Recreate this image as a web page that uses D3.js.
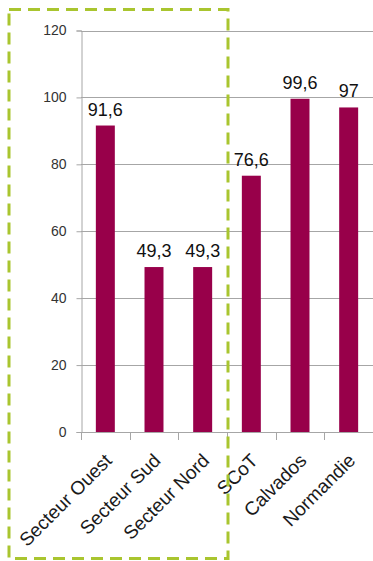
<!DOCTYPE html>
<html>
<head>
<meta charset="utf-8">
<script src="https://cdn.jsdelivr.net/npm/d3@7"></script>
<style>
  body { margin: 0; background: #fff; }
  svg { display: block; font-family: "Liberation Sans", Arial, sans-serif; }
</style>
</head>
<body>
<div id="chart"></div>
<script>
// data
const categories = ["Secteur Ouest", "Secteur Sud", "Secteur Nord", "SCoT", "Calvados", "Normandie"]
const values = [91.6, 49.3, 49.3, 76.6, 99.6, 97]
const labels = ["91,6", "49,3", "49,3", "76,6", "99,6", "97"]
const yTicks = [0, 20, 40, 60, 80, 100, 120]

const width = 373
const height = 561
const margin = {top: 30.5, right: 0, bottom: 129, left: 81}

const svg = d3.select("#chart").append("svg")
    .attr("width", width)
    .attr("height", height)

const x = d3.scaleBand()
    .domain(categories)
    .range([margin.left, width - margin.right])
    .paddingInner(0.61)
    .paddingOuter(0.305)

const y = d3.scaleLinear()
    .domain([0, 120])
    .range([height - margin.bottom, margin.top])

// gridlines
svg.append("g")
    .selectAll("line")
    .data(yTicks)
    .join("line")
    .attr("x1", margin.left)
    .attr("x2", width)
    .attr("y1", d => Math.round(y(d)) + 0.5)
    .attr("y2", d => Math.round(y(d)) + 0.5)
    .attr("stroke", "#a6a6a6")

// y axis
const yAxis = svg.append("g")
    .attr("transform", `translate(${margin.left + 0.5},0)`)
    .call(d3.axisLeft(y).tickValues(yTicks).tickSize(5).tickPadding(10))
yAxis.select(".domain").attr("stroke", "#a6a6a6")
yAxis.selectAll(".tick line").attr("stroke", "#a6a6a6")
yAxis.selectAll(".tick text")
    .attr("fill", "#333")
    .style("font-size", "14px")
    .style("font-family", "Liberation Sans, Arial, sans-serif")

// x axis ticks between bands
const step = x.step()
const edges = d3.range(categories.length + 1).map(i => margin.left + i * step)
svg.append("g")
    .selectAll("line")
    .data(edges)
    .join("line")
    .attr("x1", d => Math.round(d) + 0.5)
    .attr("x2", d => Math.round(d) + 0.5)
    .attr("y1", y(0))
    .attr("y2", y(0) + 8)
    .attr("stroke", "#a6a6a6")

// bars
svg.append("g")
    .selectAll("rect")
    .data(values)
    .join("rect")
    .attr("x", (d, i) => x(categories[i]))
    .attr("width", x.bandwidth())
    .attr("y", d => y(d))
    .attr("height", d => y(0) - y(d))
    .attr("fill", "#98004a")

// value labels
svg.append("g")
    .selectAll("text")
    .data(values)
    .join("text")
    .attr("x", (d, i) => x(categories[i]) + x.bandwidth() / 2)
    .attr("y", d => y(d) - 10)
    .attr("text-anchor", "middle")
    .style("font-size", "18px")
    .attr("fill", "#111")
    .text((d, i) => labels[i])

// category labels
svg.append("g")
    .selectAll("text")
    .data(categories)
    .join("text")
    .attr("transform", d => `translate(${x(d) + x.bandwidth() / 2 + 3},${y(0) + 25}) rotate(-45)`)
    .attr("text-anchor", "end")
    .attr("dy", "0.35em")
    .style("font-size", "19px")
    .attr("fill", "#1a1a1a")
    .text(d => d)

// dashed frame around the sectors
svg.append("rect")
    .attr("x", 9)
    .attr("y", 9.5)
    .attr("width", 219)
    .attr("height", 549)
    .attr("fill", "none")
    .attr("stroke", "#a9c52f")
    .attr("stroke-width", 3)
    .attr("stroke-dasharray", "12,7")
</script>
</body>
</html>
